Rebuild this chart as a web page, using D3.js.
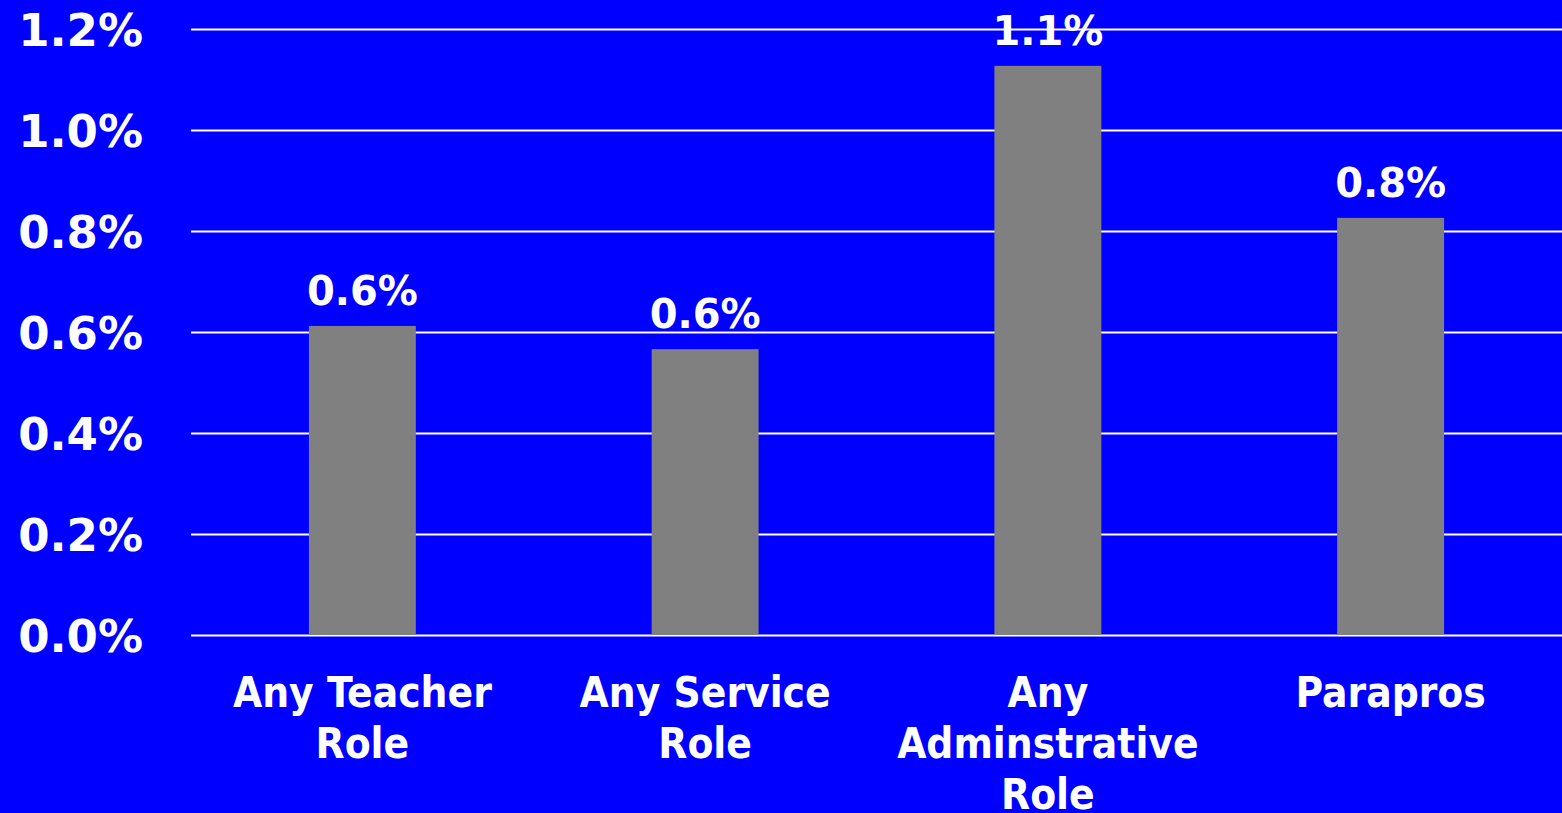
<!DOCTYPE html>
<html>
  <head>
    <meta charset="UTF-8">
    <title>Roles bar chart</title>
    <script src="https://cdnjs.cloudflare.com/ajax/libs/d3/7.8.5/d3.min.js"></script>
    <style type="text/css">
      body {
        margin: 0px;
        background: #0000ff;
        overflow: hidden;
      }
      text {
        font-family: "DejaVu Sans", sans-serif;
        font-weight: bold;
        fill: #ffffff;
      }
      .cat {
        font-family: "DejaVu Sans Condensed", "DejaVu Sans", sans-serif;
      }
    </style>
  </head>
  <body>
    <div id="chart"></div>
    <script>
      // data
      const categories = ["Any Teacher Role", "Any Service Role", "Any Adminstrative Role", "Parapros"];
      const categoryLines = [["Any Teacher", "Role"], ["Any Service", "Role"], ["Any", "Adminstrative", "Role"], ["Parapros"]];
      const values = [0.612, 0.566, 1.127, 0.826];
      const valueLabels = ["0.6%", "0.6%", "1.1%", "0.8%"];
      const yTicks = [0, 0.2, 0.4, 0.6, 0.8, 1.0, 1.2];

      const width = 1562;
      const height = 813;
      const margin = {top: 29, right: 0, bottom: 178, left: 191};

      const svg = d3.select("#chart")
        .append("svg")
        .attr("width", width)
        .attr("height", height);

      svg.append("rect")
        .attr("width", width)
        .attr("height", height)
        .attr("fill", "#0000ff");

      const x = d3.scaleBand()
        .domain(categories)
        .range([margin.left, width - margin.right])
        .paddingInner(0.688)
        .paddingOuter(0.344);

      const y = d3.scaleLinear()
        .domain([0, 1.2])
        .range([height - margin.bottom, margin.top]);

      // gridlines + tick labels
      const yAxis = svg.append("g")
        .attr("transform", `translate(${margin.left},0)`)
        .call(d3.axisLeft(y)
          .tickValues(yTicks)
          .tickSize(-(width - margin.left - margin.right))
          .tickPadding(48)
          .tickFormat(d => d.toFixed(1) + "%"));
      yAxis.select(".domain").remove();
      yAxis.selectAll(".tick line")
        .attr("stroke", "#ffffff")
        .attr("stroke-width", 2);
      yAxis.selectAll(".tick text")
        .attr("fill", "#ffffff")
        .attr("dy", "0.36em")
        .style("font-family", "'DejaVu Sans', sans-serif")
        .style("font-size", "45px");

      // bars
      svg.selectAll("rect.bar")
        .data(values)
        .enter().append("rect")
        .attr("class", "bar")
        .attr("x", (d, i) => x(categories[i]))
        .attr("y", d => y(d))
        .attr("width", x.bandwidth())
        .attr("height", d => y(0) - y(d))
        .attr("fill", "#808080");

      // value labels
      svg.selectAll("text.value")
        .data(values)
        .enter().append("text")
        .attr("class", "value")
        .attr("x", (d, i) => x(categories[i]) + x.bandwidth() / 2)
        .attr("y", d => y(d) - 21)
        .attr("text-anchor", "middle")
        .style("font-size", "40px")
        .text((d, i) => valueLabels[i]);

      // category labels
      const catLabels = svg.selectAll("text.cat")
        .data(categories)
        .enter().append("text")
        .attr("class", "cat")
        .attr("text-anchor", "middle")
        .attr("x", d => x(d) + x.bandwidth() / 2)
        .attr("y", 707)
        .style("font-size", "42px");

      catLabels.each(function(d, i) {
        d3.select(this).selectAll("tspan")
          .data(categoryLines[i])
          .enter().append("tspan")
          .attr("x", x(d) + x.bandwidth() / 2)
          .attr("dy", (t, j) => j === 0 ? 0 : 51)
          .text(t => t);
      });
    </script>
  </body>
</html>
